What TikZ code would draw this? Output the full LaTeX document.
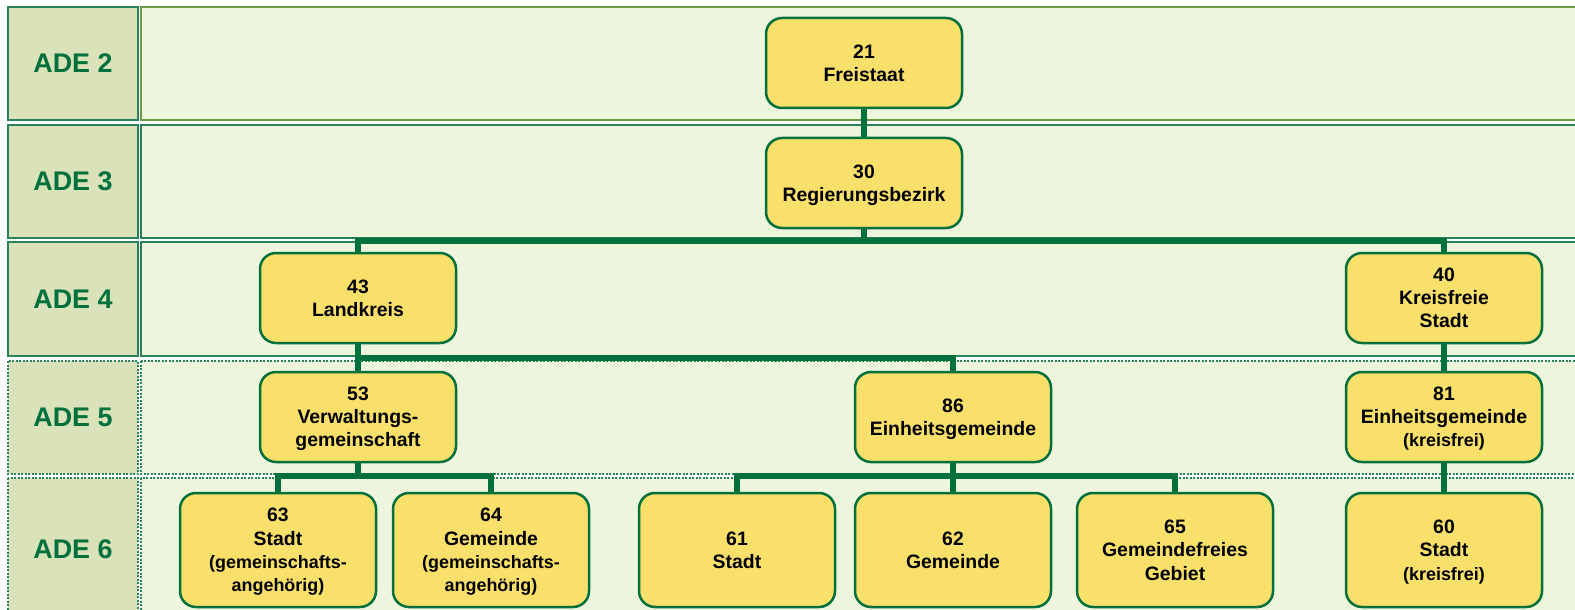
\documentclass[tikz,border=0pt]{standalone}
\usepackage{fontspec}
\setmainfont{Liberation Sans}
\usepackage{tikz}

\definecolor{adegreen}{RGB}{0,112,60}
\definecolor{labfill}{RGB}{217,226,185}
\definecolor{cellfill}{RGB}{238,245,221}
\definecolor{boxfill}{RGB}{249,224,106}
\definecolor{cellline}{RGB}{40,130,90}
\definecolor{oliveline}{RGB}{110,155,70}

\newcommand{\kl}[1]{{\fontsize{18}{22.5}\selectfont #1}}

\begin{document}
\begin{tikzpicture}[x=1bp, y=-1bp,
    box/.style={draw=adegreen, line width=2.5bp, fill=boxfill, rounded corners=16bp,
                minimum width=196bp, minimum height=90bp, inner sep=0pt, align=center,
                text depth=0pt, execute at begin node={\rule{0pt}{18bp}},
                font=\fontsize{19.5}{23.3}\selectfont\bfseries},
    tall/.style={box, minimum height=114bp},
    adetext/.style={text=adegreen, font=\fontsize{27}{32}\selectfont\bfseries},
    rowline/.style={draw=cellline, line width=1.5bp},
    dotline/.style={rowline, dash pattern=on 2bp off 1.5bp},
    conn/.style={draw=adegreen, line width=5.5bp}]
      \clip (0,0) rectangle (1575,610);
      \fill [white] (0,0) rectangle (1575,610);
      \draw [rowline, fill=labfill] (8,7) rectangle (138,120) node (ade2) [pos=.5, adetext] {ADE 2}
            (8,125) rectangle (138,238) node (ade3) [pos=.5, adetext] {ADE 3}
            (8,242) rectangle (138,356) node (ade4) [pos=.5, adetext] {ADE 4};
      \draw [dotline, fill=labfill] (8,361) rectangle (138,474) node (ade5) [pos=.5, adetext] {ADE 5}
            (8,478) rectangle (138,620);
      \node (ade6) [adetext] at (73,549) {ADE 6};
      \draw [rowline, draw=oliveline, fill=cellfill] (141,7) rectangle (1590,120);
      \draw [rowline, fill=cellfill] (141,125) rectangle (1590,238)
            (141,242) rectangle (1590,356);
      \draw [dotline, fill=cellfill] (141,361) rectangle (1590,474)
            (141,478) rectangle (1590,620);
      \coordinate (bus4) at (0,241);
      \coordinate (bus5) at (0,358);
      \coordinate (bus6) at (0,476);
      \draw (864,63) node (frei) [box] {21\\Freistaat}
            (864,183) node (rb) [box] {30\\Regierungsbezirk}
            (358,298) node (lk) [box] {43\\Landkreis}
            (1444,298) node (kfs) [box] {40\\Kreisfreie\\Stadt}
            (358,417) node (vg) [box] {53\\Verwaltungs-\\gemeinschaft}
            (953,417) node (eg) [box] {86\\Einheitsgemeinde}
            (1444,417) node (egkf) [box] {81\\Einheitsgemeinde\\\kl{(kreisfrei)}};
      \draw (278,550) node (stvg) [tall] {63\\Stadt\\\kl{(gemeinschafts-}\\\kl{angehörig)}}
            (491,550) node (gemvg) [tall] {64\\Gemeinde\\\kl{(gemeinschafts-}\\\kl{angehörig)}}
            (737,550) node (st) [tall] {61\\Stadt}
            (953,550) node (gem) [tall] {62\\Gemeinde}
            (1175,550) node (gfg) [tall] {65\\Gemeindefreies\\Gebiet}
            (1444,550) node (stkf) [tall] {60\\Stadt\\\kl{(kreisfrei)}};
      \draw [conn] (frei) -- (rb)
            (rb.south) -- (rb |- bus4)
            (lk.north) |- (bus4 -| kfs) -- (kfs.north)
            (lk.south) -- (lk |- bus5)
            (vg.north) |- (bus5 -| eg) -- (eg.north)
            (kfs) -- (egkf)
            (vg.south) -- (vg |- bus6)
            (stvg.north) |- (bus6 -| gemvg) -- (gemvg.north)
            (eg.south) -- (eg |- bus6)
            (st.north) |- (bus6 -| gfg) -- (gfg.north)
            (gem.north) -- (gem |- bus6)
            (egkf) -- (stkf);
\end{tikzpicture}
\end{document}
